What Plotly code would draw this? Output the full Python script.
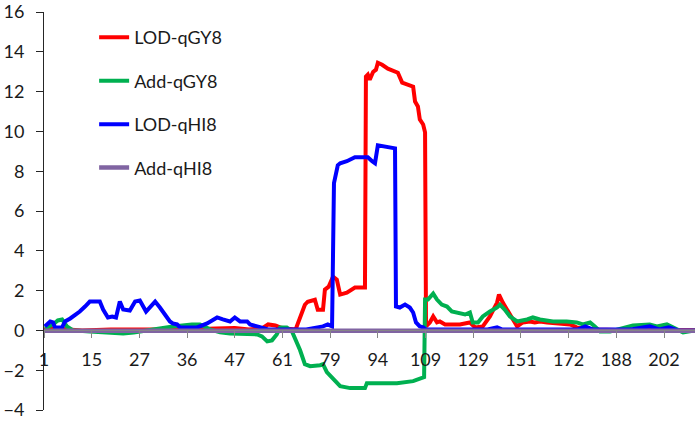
import plotly.graph_objects as go

# Category tick labels (every 10th marker position)
tick_labels = ["1", "15", "27", "36", "47", "61", "79", "94", "109", "129", "151", "172", "188", "202"]
label_step = 10
n_positions = 136.5

# LOD-qGY8 (red)
lod_gy_x = [0, 3, 5, 8, 14, 20, 25, 30, 36, 40, 43, 45.7, 47.0, 48.5, 49.5, 50.5, 52.8, 53.0,
            54.7, 55.3, 56.8, 57.4, 58.5, 58.9, 59.7, 60.6, 61.4, 62.1, 63.5, 65.2, 67.3,
            67.5, 67.9, 68.3, 69.0, 69.6, 70.0, 70.9, 72.1, 73.2, 74.2, 75.1, 76.1, 77.4, 77.8,
            78.4, 78.8, 79.5, 79.9, 80.1, 80.9, 81.6, 82.4, 83.0, 84.1, 87.2, 89.3, 90.4, 92.0,
            93.5, 95.0, 95.4, 96.2, 97.1, 98.3, 99.2, 100.4, 101.9, 102.9, 104.0, 105.5, 108.2,
            110.3, 111.7, 113.0, 116, 120, 136.5]
lod_gy_y = [0.05, 0.1, 0.05, 0.0, 0.05, 0.05, 0.02, 0.05, 0.1, 0.12, 0.05, 0.1, 0.3, 0.25, 0.15, 0.1, 0.05, 0.2,
            1.29, 1.44, 1.54, 1.04, 1.04, 2.05, 2.2, 2.7, 2.55, 1.8, 1.9, 2.15, 2.15,
            12.75, 12.85, 12.6, 12.99, 13.1, 13.45, 13.35, 13.15, 13.05, 12.95, 12.45, 12.35, 12.25, 11.5,
            11.25, 10.6, 10.35, 9.95, 0.2, 0.4, 0.7, 0.4, 0.45, 0.3, 0.3, 0.4, 0.15, 0.2,
            0.7, 1.4, 1.8, 1.4, 1.05, 0.55, 0.2, 0.4, 0.45, 0.4, 0.45, 0.4, 0.35,
            0.3, 0.15, 0.1, 0.05, 0.02, 0.02]

# Add-qGY8 (green)
add_gy_x = [0.2, 1.9, 2.9, 3.8, 4.8, 6.1, 9.6, 13.2, 16.6, 18.8, 21.4, 24.3, 27.0, 31.0, 32.7,
            34.8, 36.9, 39.0, 42.6, 44.7, 45.7, 46.8, 47.8, 48.8, 49.5, 50.9, 52.0, 53.0, 53.7,
            54.7, 55.8, 57.9, 58.5, 59.3, 60.6, 62.1, 64.2, 67.3, 67.7, 70.4, 74.0, 77.4, 79.2,
            79.7, 79.9, 80.5, 81.6, 82.4, 83.4, 84.5, 85.5, 86.6, 88.3, 89.3, 89.9, 91.0, 92.0,
            93.5, 95.0, 95.6, 96.6, 97.7, 99.2, 101.3, 102.5, 104.0, 106.7, 109.6, 111.7, 113.0,
            114.5, 115.5, 116.6, 118.7, 120.8, 123.5, 127.0, 128.5, 130.6, 131.9, 134.0, 135.4, 136.5]
add_gy_y = [0.1, 0.3, 0.5, 0.55, 0.2, 0.0, -0.05, -0.1, -0.15, -0.1, 0.0, 0.1, 0.2, 0.3, 0.3,
            0.05, -0.1, -0.15, -0.2, -0.2, -0.3, -0.55, -0.5, -0.2, 0.15, 0.15, -0.05, -0.55, -1.0,
            -1.7, -1.8, -1.75, -1.7, -2.1, -2.45, -2.8, -2.9, -2.9, -2.65, -2.65, -2.65, -2.55, -2.4,
            -2.35, 1.55, 1.55, 1.85, 1.55, 1.3, 1.2, 0.95, 0.9, 0.8, 0.9, 0.4, 0.4, 0.7,
            0.95, 1.15, 1.3, 1.05, 0.7, 0.45, 0.55, 0.65, 0.55, 0.45, 0.45, 0.4, 0.3,
            0.4, 0.2, -0.05, -0.05, 0.1, 0.25, 0.3, 0.2, 0.3, 0.15, -0.1, -0.05, 0.0]

# LOD-qHI8 (blue)
lod_hi_x = [0.2, 1.3, 1.9, 2.3, 3.8, 4.4, 5.5, 6.1, 7.5, 8.6, 9.6, 11.7, 12.4, 13.4, 14.3, 15.1,
            15.9, 16.6, 18.0, 19.1, 20.1, 21.4, 23.3, 24.3, 25.4, 26.4, 27.0, 27.9, 28.5, 32.1,
            34.2, 36.3, 37.5, 39.0, 40.0, 41.1, 42.6, 43.2, 44.7, 45.7, 47, 55, 58.5, 59.5, 60.4,
            60.8, 61.2, 61.6, 62.1, 63.5, 65.2, 67.9, 68.8, 69.4, 70.0, 71.1, 73.2, 73.6, 73.8,
            74.6, 75.7, 76.7, 77.4, 78.0, 78.8, 79.5, 80, 93, 95, 96, 112, 113.5, 115, 123, 127,
            129, 131, 133, 136.5]
lod_hi_y = [0.2, 0.45, 0.4, 0.15, 0.15, 0.45, 0.6, 0.7, 0.95, 1.2, 1.45, 1.45, 1.05, 0.65, 0.7, 0.65,
            1.45, 1.05, 1.0, 1.45, 1.5, 0.95, 1.45, 1.15, 0.8, 0.45, 0.35, 0.3, 0.15, 0.15,
            0.35, 0.65, 0.55, 0.45, 0.65, 0.45, 0.45, 0.3, 0.2, 0.15, 0.05, 0.05, 0.2, 0.3, 0.2,
            7.4, 7.9, 8.3, 8.4, 8.5, 8.7, 8.7, 8.5, 8.4, 9.3, 9.25, 9.2, 9.15, 1.2,
            1.15, 1.3, 1.15, 0.9, 0.4, 0.2, 0.15, 0.05, 0.05, 0.15, 0.05, 0.05, 0.2, 0.05, 0.05, 0.2,
            0.05, 0.15, 0.0, 0.0]

# Add-qHI8 (purple)
add_hi_x = [0, 136.5]
add_hi_y = [-0.02, -0.02]

series = [
    ("LOD-qGY8", lod_gy_x, lod_gy_y, "#FF0000", 4),
    ("Add-qGY8", add_gy_x, add_gy_y, "#00B050", 4),
    ("LOD-qHI8", lod_hi_x, lod_hi_y, "#0000FF", 4),
    ("Add-qHI8", add_hi_x, add_hi_y, "#8064A2", 4.5),
]

fig = go.Figure()
for i, (name, xs, ys, color, w) in enumerate(series):
    fig.add_trace(go.Scatter(x=xs, y=ys, mode="lines", name=name,
                             line=dict(color=color, width=w),
                             legendgroup=f"g{i}", hoverinfo="skip"))

font = dict(family="Lato, 'Open Sans', sans-serif", size=18, color="#1a1a1a")

fig.update_layout(
    width=700, height=421,
    margin=dict(l=44, r=5, t=12, b=11),
    paper_bgcolor="white", plot_bgcolor="white",
    font=font,
    showlegend=True,
    hovermode=False,
    legend=dict(x=0.077, y=0.982, xanchor="left", yanchor="top",
                bgcolor="rgba(0,0,0,0)", font=font, tracegroupgap=17,
                traceorder="grouped"),
    xaxis=dict(range=[0, n_positions], anchor="free", position=0.2,
               tickvals=[i * label_step for i in range(len(tick_labels))],
               ticktext=tick_labels, showgrid=False, zeroline=False,
               showline=True, linecolor="#868686", linewidth=1,
               ticks="outside", ticklen=7, tickcolor="#868686",
               ticklabelstandoff=6, tickfont=font, automargin=False),
    yaxis=dict(range=[-4, 16], dtick=2, showgrid=False, zeroline=False,
               showline=True, linecolor="#262626", linewidth=1,
               ticks="outside", ticklen=7, tickcolor="#262626",
               ticklabelstandoff=8, tickfont=font, automargin=False),
)

# remove the page's default body margin so the figure sits at the window origin
fig.write_html("out.html",
               config={"displayModeBar": False, "staticPlot": True},
               post_script="document.body.style.margin='0';document.body.style.overflow='hidden';")
